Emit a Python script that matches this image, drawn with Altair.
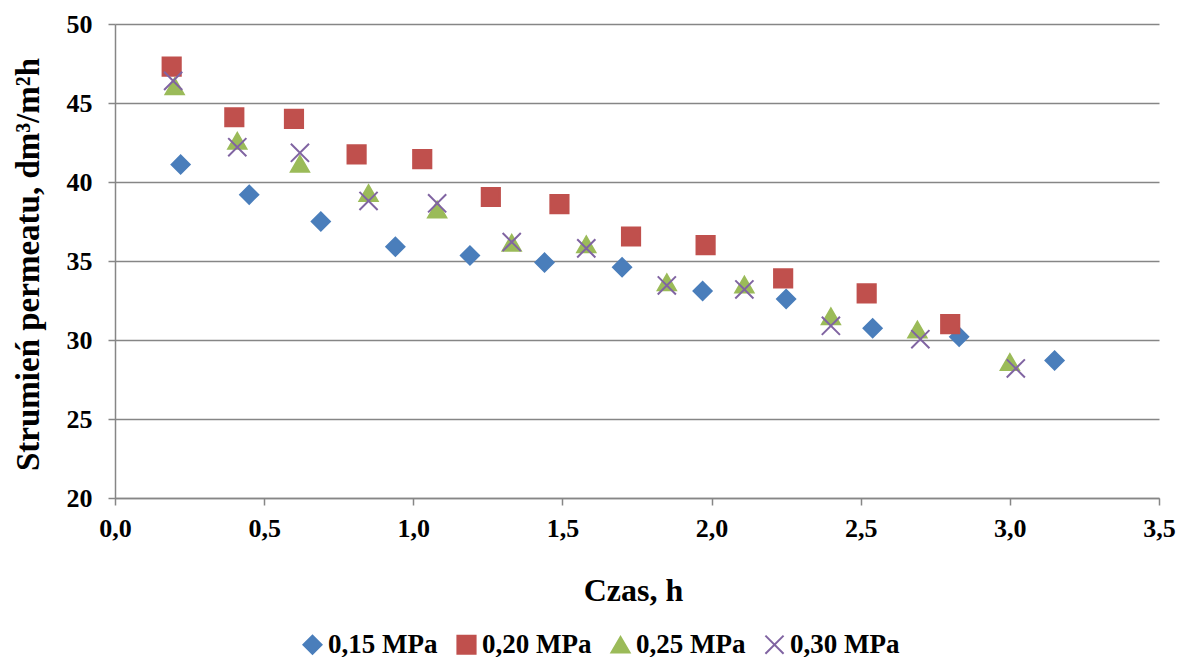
import altair as alt
import pandas as pd

series = ["0,15 MPa", "0,20 MPa", "0,25 MPa", "0,30 MPa"]

t015 = [0.22, 0.45, 0.69, 0.94, 1.19, 1.44, 1.70, 1.97, 2.25, 2.54, 2.83, 3.15]
j015 = [41.1, 39.2, 37.5, 35.9, 35.35, 34.9, 34.6, 33.1, 32.6, 30.75, 30.2, 28.7]

t020 = [0.19, 0.40, 0.60, 0.81, 1.03, 1.26, 1.49, 1.73, 1.98, 2.24, 2.52, 2.80]
j020 = [47.3, 44.1, 44.0, 41.75, 41.45, 39.05, 38.6, 36.55, 36.0, 33.9, 32.95, 31.0]

t025 = [0.20, 0.41, 0.62, 0.85, 1.08, 1.33, 1.58, 1.85, 2.11, 2.40, 2.69, 3.00]
j025 = [46.05, 42.6, 41.15, 39.3, 38.25, 36.15, 36.05, 33.65, 33.5, 31.5, 30.65, 28.6]

t030 = [0.195, 0.41, 0.62, 0.85, 1.08, 1.33, 1.58, 1.85, 2.11, 2.40, 2.70, 3.02]
j030 = [46.4, 42.2, 41.85, 38.8, 38.65, 36.2, 35.8, 33.45, 33.2, 30.9, 30.05, 28.2]

x_ticks = [0.0, 0.5, 1.0, 1.5, 2.0, 2.5, 3.0, 3.5]
y_ticks = [20, 25, 30, 35, 40, 45, 50]

colors = ["#4A7EBB", "#C0504D", "#9BBB59", "#8064A2"]
shapes = ["diamond", "square", "triangle-up", "M-1,-1L1,1M1,-1L-1,1"]
sizes = [330, 330, 400, 360]

rows = []
for name, ts, js in zip(series, [t015, t020, t025, t030], [j015, j020, j025, j030]):
    for t, j in zip(ts, js):
        rows.append({"series": name, "t": t, "j": j})
df = pd.DataFrame(rows)

FONT = "Liberation Serif"
GRAY = "#868686"

color_scale = alt.Scale(domain=series, range=colors)
legend = alt.Legend(
    title=None,
    orient="none",
    legendX=184,
    legendY=607,
    direction="horizontal",
    labelFont=FONT,
    labelFontWeight="bold",
    labelFontSize=27,
    labelColor="black",
    labelLimit=300,
    symbolSize=260,
    symbolStrokeWidth=2,
    labelOffset=2,
    columnPadding=15,
)

chart = (
    alt.Chart(df)
    .mark_point(filled=True, opacity=1, strokeWidth=2)
    .encode(
        x=alt.X(
            "t:Q",
            scale=alt.Scale(domain=[0, 3.5], nice=False, zero=False),
            axis=alt.Axis(
                values=x_ticks,
                labelExpr="replace(format(datum.value, '.1f'), '.', ',')",
                grid=False,
                title="Czas, h",
                titleFont=FONT,
                titleFontWeight="bold",
                titleFontSize=32,
                titleColor="black",
                titleX=518,
                titleY=102,
                titleBaseline="alphabetic",
                labelFont=FONT,
                labelFontWeight="bold",
                labelFontSize=26,
                labelColor="black",
                labelPadding=10,
                tickSize=7,
                tickColor=GRAY,
                tickWidth=1.5,
                domainColor=GRAY,
                domainWidth=1.5,
                labelFlush=False,
            ),
        ),
        y=alt.Y(
            "j:Q",
            scale=alt.Scale(domain=[20, 50], nice=False, zero=False),
            axis=alt.Axis(
                values=y_ticks,
                grid=True,
                gridColor=GRAY,
                gridWidth=1.5,
                title="Strumień permeatu, dm³/m²h",
                titleFont=FONT,
                titleFontWeight="bold",
                titleFontSize=33,
                titleColor="black",
                titleX=-77,
                titleY=240,
                titleBaseline="alphabetic",
                labelFont=FONT,
                labelFontWeight="bold",
                labelFontSize=26,
                labelColor="black",
                labelPadding=16,
                tickSize=7,
                tickColor=GRAY,
                tickWidth=1.5,
                domainColor=GRAY,
                domainWidth=1.5,
                labelFlush=False,
            ),
        ),
        color=alt.Color("series:N", scale=color_scale, legend=legend),
        stroke=alt.Stroke("series:N", scale=color_scale, legend=legend),
        shape=alt.Shape("series:N", scale=alt.Scale(domain=series, range=shapes), legend=legend),
        size=alt.Size("series:N", scale=alt.Scale(domain=series, range=sizes), legend=None),
    )
    .properties(
        width=1044,
        height=474,
        autosize=alt.AutoSizeParams(type="none"),
        padding={"left": 115, "top": 24, "right": 21, "bottom": 159},
        background="white",
    )
    .configure_view(stroke=None)
)

chart.save("out.html", embed_options={"renderer": "svg", "actions": False})
